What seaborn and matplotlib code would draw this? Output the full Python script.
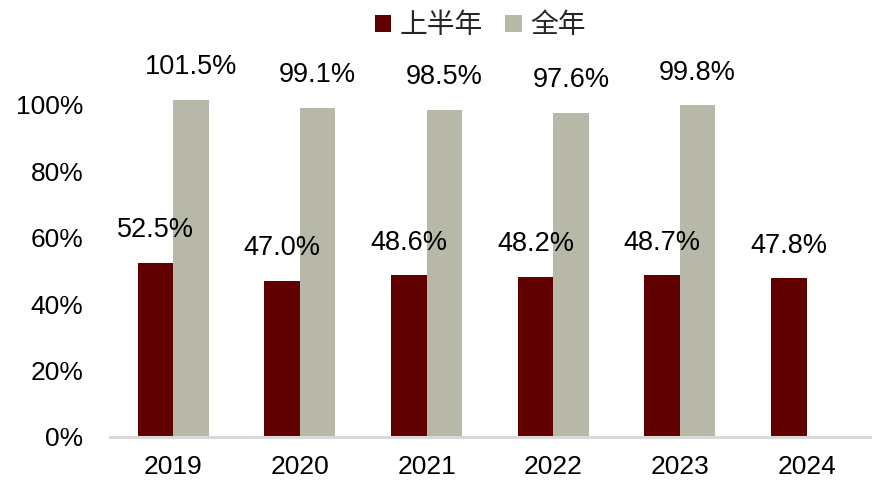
import matplotlib
matplotlib.use("Agg")
import matplotlib.pyplot as plt
import seaborn as sns
import pandas as pd
import numpy as np

years = ["2019", "2020", "2021", "2022", "2023", "2024"]
half_year = [52.5, 47.0, 48.6, 48.2, 48.7, 47.8]
full_year = [101.5, 99.1, 98.5, 97.6, 99.8, np.nan]
series_names = ["上半年", "全年"]
colors = ["#600000", "#B8B8A8"]

sns.set_theme(style="white")
plt.rcParams["font.family"] = ["Liberation Sans", "Noto Sans CJK SC", "DejaVu Sans"]

df = pd.DataFrame({
    "year": years * 2,
    "value": half_year + full_year,
    "series": [series_names[0]] * len(years) + [series_names[1]] * len(years),
})

fig = plt.figure(figsize=(8.94, 4.91), dpi=100)
ax = fig.add_axes([0.123, 0.110, 0.850, 0.758])

sns.barplot(data=df, x="year", y="value", hue="series", hue_order=series_names,
            palette=colors, width=0.56, saturation=1, ax=ax, legend=False,
            errorbar=None, linewidth=0)

for cont in ax.containers:
    labels = ["" if np.isnan(v) else f"{v:.1f}%" for v in cont.datavalues]
    ax.bar_label(cont, labels=labels, padding=14, fontsize=19.5, color="black")

ax.set_ylim(0, 112)
ax.set_xlim(-0.5, 5.5)
ax.set_yticks([0, 20, 40, 60, 80, 100])
ax.set_yticklabels([f"{t}%" for t in [0, 20, 40, 60, 80, 100]], fontsize=19)
ax.tick_params(axis="x", labelsize=19, pad=13, length=0, labelcolor="black")
ax.tick_params(axis="y", pad=19, length=0, labelcolor="black")
ax.set_xlabel("")
ax.set_ylabel("")
for s in ["top", "right", "left"]:
    ax.spines[s].set_visible(False)
ax.spines["bottom"].set_color("#D9D9D9")
ax.spines["bottom"].set_linewidth(2.2)

from matplotlib.patches import Patch
handles = [Patch(facecolor=c, edgecolor="none") for c in colors]
fig.legend(handles, series_names, loc="upper center", bbox_to_anchor=(0.537, 1.03),
           ncol=2, frameon=False, prop={"family": ["Noto Sans CJK SC"], "size": 20},
           handlelength=0.6, handleheight=0.6, handletextpad=0.3, columnspacing=0.8)

fig.savefig("out.png", dpi=100)
